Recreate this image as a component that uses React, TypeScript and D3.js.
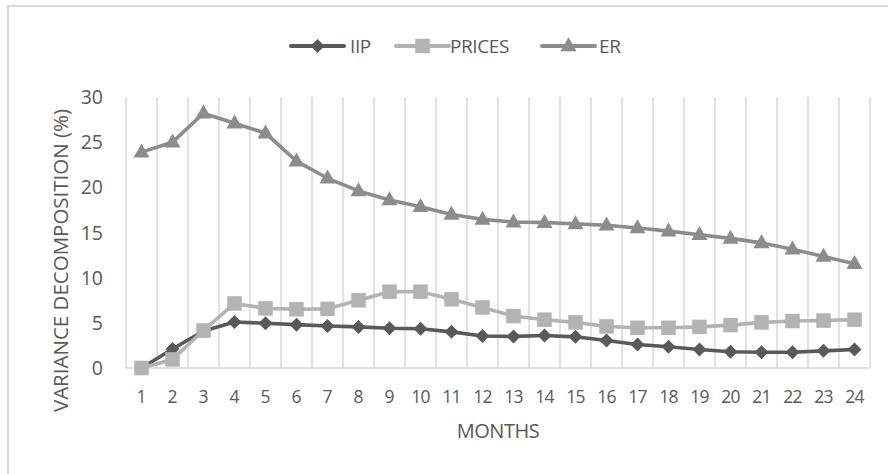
import React from "react";
import * as d3 from "d3";

const months = d3.range(1, 25);
const iip = [0, 2.1, 4.1, 5.1, 4.95, 4.8, 4.65, 4.55, 4.4, 4.35, 4.0, 3.55, 3.5, 3.6, 3.45, 3.05, 2.6, 2.35, 2.05, 1.8, 1.75, 1.75, 1.9, 2.05];
const prices = [0, 0.95, 4.15, 7.15, 6.6, 6.5, 6.55, 7.5, 8.45, 8.45, 7.6, 6.7, 5.75, 5.35, 5.05, 4.6, 4.45, 4.45, 4.55, 4.75, 5.05, 5.2, 5.25, 5.35];
const er = [23.9, 25.0, 28.2, 27.1, 26.0, 22.9, 21.0, 19.6, 18.6, 17.85, 17.0, 16.45, 16.15, 16.1, 15.95, 15.8, 15.5, 15.15, 14.75, 14.35, 13.85, 13.15, 12.35, 11.55];
const yTicks = [0, 5, 10, 15, 20, 25, 30];

const seriesNames = ["IIP", "PRICES", "ER"];
const seriesColors = ["#595959", "#b3b3b3", "#8c8c8c"];
const seriesValues = [iip, prices, er];
const seriesMarkers = ["diamond", "square", "triangle"];

const FONT = "'Open Sans', 'DejaVu Sans', sans-serif";
const TXT = "#595959";
const GRID = "#d9d9d9";

function Marker({ kind, x, y, color }: { kind: string; x: number; y: number; color: string }) {
  if (kind === "diamond") {
    const r = 7;
    return <path d={`M${x},${y - r}L${x + r},${y}L${x},${y + r}L${x - r},${y}Z`} fill={color} />;
  }
  if (kind === "square") {
    const s = 14.5;
    return <rect x={x - s / 2} y={y - s / 2} width={s} height={s} fill={color} />;
  }
  const w = 16, h = 14;
  return <path d={`M${x},${y - h * 0.62}L${x + w / 2},${y + h * 0.38}L${x - w / 2},${y + h * 0.38}Z`} fill={color} />;
}

export default function App() {
  const W = 888, H = 474;
  const left = 126, right = 870, top = 97, bottom = 368;
  const x = d3.scaleBand<number>().domain(months).range([left, right]);
  const y = d3.scaleLinear().domain([0, 30]).range([bottom, top]);
  const cx = (m: number) => (x(m) as number) + x.bandwidth() / 2;
  const line = d3.line<number>().x((_, i) => cx(months[i])).y((v) => y(v));

  const boundaries = d3.range(0, months.length + 1).map((k) => left + k * x.bandwidth());

  const legendItems = [
    { lineX: 291, textX: 350 },
    { lineX: 396, textX: 450 },
    { lineX: 542, textX: 599 },
  ];
  const legendY = 46;

  return (
    <svg width={W} height={H} style={{ position: "absolute", left: 0, top: 0, background: "#fff" }} fontFamily={FONT}>
      <rect x={0} y={0} width={W} height={H} fill="#fff" />
      <rect x={8} y={6} width={W + 20} height={H + 20} fill="#fff" stroke={GRID} strokeWidth={2} />
      {boundaries.map((bx, i) => (
        <line key={i} x1={bx} x2={bx} y1={top} y2={bottom} stroke={GRID} strokeWidth={1.5} />
      ))}
      <line x1={left} x2={right} y1={bottom} y2={bottom} stroke={GRID} strokeWidth={1.5} />
      {yTicks.map((t) => (
        <text key={t} x={103} y={y(t)} dy="0.36em" textAnchor="end" fontSize={19.5} fill={TXT}>
          {t}
        </text>
      ))}
      {months.map((m) => (
        <text key={m} x={cx(m)} y={402.5} textAnchor="middle" fontSize={17.5} fill={TXT} letterSpacing={m >= 10 ? -0.8 : 0}>
          {m}
        </text>
      ))}
      <text x={(left + right) / 2} y={438} textAnchor="middle" fontSize={20} fill={TXT} letterSpacing={-0.5}>
        MONTHS
      </text>
      <text transform={`translate(68,${(top + bottom) / 2 + 28}) rotate(-90)`} textAnchor="middle" fontSize={20.5} fill={TXT}>
        VARIANCE DECOMPOSITION (%)
      </text>
      {seriesValues.map((vals, si) => (
        <g key={si}>
          <path d={line(vals) as string} fill="none" stroke={seriesColors[si]} strokeWidth={3.6} strokeLinejoin="round" strokeLinecap="round" />
          {vals.map((v, i) => (
            <Marker key={i} kind={seriesMarkers[si]} x={cx(months[i])} y={y(v)} color={seriesColors[si]} />
          ))}
        </g>
      ))}
      {seriesNames.map((name, si) => {
        const it = legendItems[si];
        return (
          <g key={name}>
            <line x1={it.lineX} x2={it.lineX + 53} y1={legendY} y2={legendY} stroke={seriesColors[si]} strokeWidth={4} strokeLinecap="round" />
            <Marker kind={seriesMarkers[si]} x={it.lineX + 26.5} y={legendY} color={seriesColors[si]} />
            <text x={it.textX} y={legendY} dy="0.36em" fontSize={19} fill={TXT} letterSpacing={-0.4}>
              {name}
            </text>
          </g>
        );
      })}
    </svg>
  );
}
